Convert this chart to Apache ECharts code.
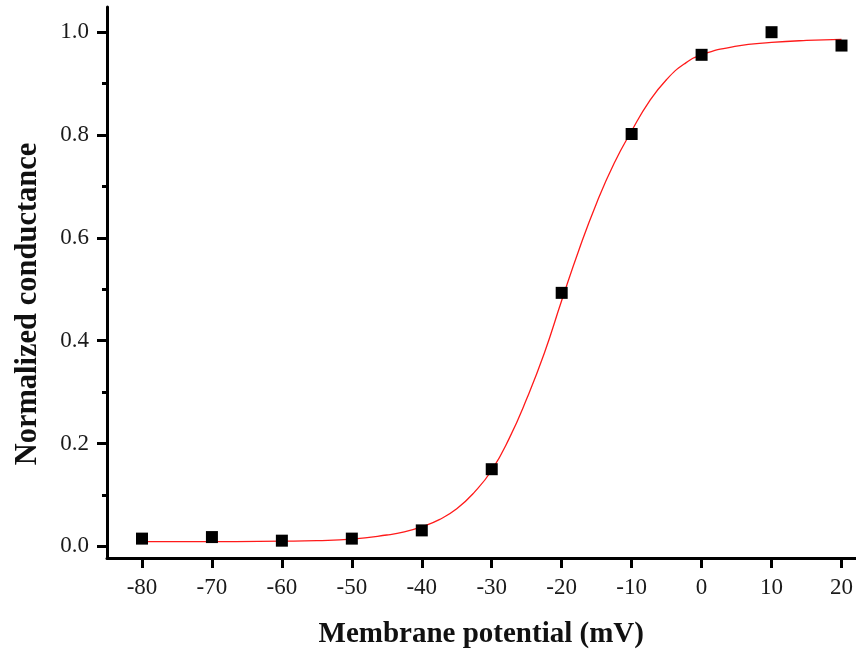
<!DOCTYPE html>
<html>
<head>
<meta charset="utf-8">
<script src="https://cdn.jsdelivr.net/npm/echarts@6/dist/echarts.min.js"></script>
<style>
  html, body { margin: 0; padding: 0; background: #fff; }
  #chart { width: 856px; height: 654px; }
</style>
</head>
<body>
<div id="chart"></div>
<script>
// measured points
const potentials = [-80, -70, -60, -50, -40, -30, -20, -10, 0, 10, 20]
const conductance = [0.015, 0.018, 0.011, 0.015, 0.031, 0.150, 0.493, 0.802, 0.956, 1.000, 0.974]

// fitted curve
const fitX = [-80, -70, -60, -55, -50, -45, -42.5, -40, -37.5, -35, -32.5, -30, -27.5, -25, -22.5, -20, -17.5, -15, -12.5, -10, -7.5, -5, -2.5, 0, 5, 10, 15, 20]
const fitY = [0.009, 0.009, 0.010, 0.011, 0.014, 0.022, 0.028, 0.038, 0.052, 0.073, 0.105, 0.148, 0.210, 0.287, 0.375, 0.478, 0.578, 0.668, 0.745, 0.808, 0.865, 0.908, 0.938, 0.956, 0.973, 0.980, 0.984, 0.986]

const xTicks = [-80, -70, -60, -50, -40, -30, -20, -10, 0, 10, 20]
const yTicks = [0, 0.2, 0.4, 0.6, 0.8, 1.0]
const yMinorTicks = [0.1, 0.3, 0.5, 0.7, 0.9]

const chart = echarts.init(document.getElementById('chart'))

const labelStyle = {
  fontFamily: 'Liberation Serif',
  fontSize: 23,
  color: '#1a1a1a'
}

const option = {
  animation: false,
  backgroundColor: '#fff',
  grid: { left: 107, right: 0, top: 7, bottom: 94 },
  xAxis: {
    type: 'value',
    min: -85,
    max: 22,
    name: 'Membrane potential (mV)',
    nameLocation: 'middle',
    nameGap: 62,
    nameTextStyle: {
      fontFamily: 'Liberation Serif',
      fontWeight: 'bold',
      fontSize: 29,
      color: '#111'
    },
    axisLine: { onZero: false, lineStyle: { color: '#000', width: 3 } },
    axisTick: {
      customValues: xTicks,
      length: 10,
      lineStyle: { color: '#000', width: 3 }
    },
    axisLabel: {
      customValues: xTicks,
      margin: 18,
      ...labelStyle
    },
    splitLine: { show: false }
  },
  yAxis: [
    {
      type: 'value',
      min: -0.0227,
      max: 1.049,
      name: 'Normalized conductance',
      nameLocation: 'middle',
      nameGap: 63,
      nameTextStyle: {
        fontFamily: 'Liberation Serif',
        fontWeight: 'bold',
        fontSize: 30.5,
        color: '#111',
        padding: [0, 43, 0, 0]
      },
      axisLine: { onZero: false, lineStyle: { color: '#000', width: 3 } },
      axisTick: {
        customValues: yTicks,
        length: 10,
        lineStyle: { color: '#000', width: 3 }
      },
      axisLabel: {
        customValues: yTicks,
        margin: 18,
        formatter: (v) => v.toFixed(1),
        ...labelStyle
      },
      splitLine: { show: false }
    },
    {
      // minor ticks only
      type: 'value',
      position: 'left',
      offset: 0,
      min: -0.0227,
      max: 1.049,
      axisLine: { show: false, onZero: false },
      axisTick: {
        customValues: yMinorTicks,
        length: 5,
        lineStyle: { color: '#000', width: 3 }
      },
      axisLabel: { show: false },
      splitLine: { show: false }
    }
  ],
  series: [
    {
      name: 'Fit',
      type: 'line',
      data: fitX.map((x, i) => [x, fitY[i]]),
      smooth: true,
      showSymbol: false,
      lineStyle: { color: '#ff1a1a', width: 1.3 },
      z: 2
    },
    {
      name: 'Data',
      type: 'scatter',
      data: potentials.map((x, i) => [x, conductance[i]]),
      symbol: 'rect',
      symbolSize: 12,
      itemStyle: { color: '#000', opacity: 1 },
      z: 3
    }
  ]
}

chart.setOption(option)
</script>
</body>
</html>
